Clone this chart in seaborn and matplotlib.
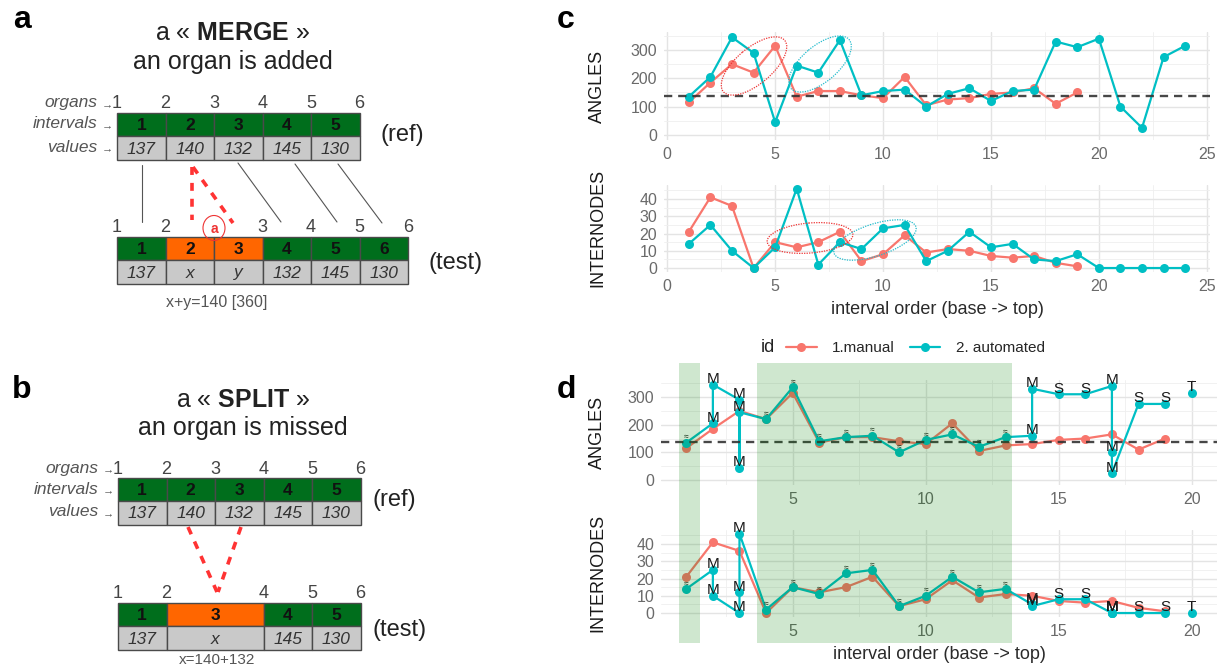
import numpy as np
import pandas as pd
import matplotlib
matplotlib.use('Agg')
import matplotlib.pyplot as plt
import matplotlib.transforms as mtransforms
from matplotlib.patches import Rectangle, Ellipse
from matplotlib.lines import Line2D
from matplotlib.ticker import MultipleLocator
import seaborn as sns

# ---- data: panel c (raw series) ----
manual_angles = [115, 185, 250, 220, 315, 135, 155, 155, 140, 130, 205, 105, 125, 130, 145, 150, 165, 110, 150]
auto_angles = [135, 205, 345, 290, 45, 245, 220, 335, 140, 155, 160, 100, 145, 165, 120, 155, 160,
               330, 310, 340, 100, 25, 275, 315]
manual_internodes = [21, 41, 36, 0, 15, 12, 15, 21, 4, 8, 19, 9, 11, 10, 7, 6, 7, 3, 1]
auto_internodes = [14, 25, 10, 0, 12, 46, 2, 15, 11, 23, 25, 4, 10, 21, 12, 14, 5, 4, 8, 0, 0, 0, 0, 0]
ref_angle = 137

# ---- data: panel d (automated intervals aligned on the manual ones) ----
d_pos = [1, 2, 2, 3, 3, 3, 4, 5, 6, 7, 8, 9, 10, 11, 12, 13, 14, 14, 15, 16, 17, 17, 17, 18, 19, 20]
d_src = [1, 2, 3, 4, 5, 6, 7, 8, 9, 10, 11, 12, 13, 14, 15, 16, 17, 18, 19, 19, 20, 21, 22, 23, 23, 24]
d_lab = ['=', 'M', 'M', 'M', 'M', 'M', '=', '=', '=', '=', '=', '=', '=', '=', '=', '=',
         'M', 'M', 'S', 'S', 'M', 'M', 'M', 'S', 'S', 'T']
d_seg = [0] * 25 + [1]
d_green = [(0.72, 1.5), (3.65, 13.25)]

# ---- data: panels a / b (diagrams) ----
ref_intervals = ['1', '2', '3', '4', '5']
ref_values = ['137', '140', '132', '145', '130']
ref_organs = ['1', '2', '3', '4', '5', '6']
merge_intervals = ['1', '2', '3', '4', '5', '6']
merge_values = ['137', 'x', 'y', '132', '145', '130']
merge_changed = [False, True, True, False, False, False]
merge_organs = ['1', '2', 'a', '3', '4', '5', '6']
split_intervals = ['1', '3', '4', '5']
split_values = ['137', 'x', '145', '130']
split_widths = [1, 2, 1, 1]
split_changed = [False, True, False, False]
split_organs = ['1', '2', '4', '5', '6']

sns.set_theme(style='white')
plt.rcParams['font.family'] = ['Liberation Sans', 'DejaVu Sans']
plt.rcParams['mathtext.fontset'] = 'custom'
plt.rcParams['mathtext.rm'] = 'Liberation Sans'
plt.rcParams['mathtext.bf'] = 'Liberation Sans:bold'

W, H = 1227, 668
fig = plt.figure(figsize=(W / 100, H / 100), dpi=100)
pal = {'1.manual': '#F8766D', '2. automated': '#00BFC4'}


def px_axes(left, top, right, bottom):
    return fig.add_axes([left / W, 1 - bottom / H, (right - left) / W, (bottom - top) / H])


manual = pd.DataFrame({'interval': np.arange(1, len(manual_angles) + 1), 'ANGLES': manual_angles,
                       'INTERNODES': manual_internodes, 'id': '1.manual', 'seg': 0})
auto = pd.DataFrame({'interval': np.arange(1, len(auto_angles) + 1), 'ANGLES': auto_angles,
                     'INTERNODES': auto_internodes, 'id': '2. automated', 'seg': 0})
auto_d = pd.DataFrame({'interval': d_pos,
                       'ANGLES': [auto_angles[s - 1] for s in d_src],
                       'INTERNODES': [auto_internodes[s - 1] for s in d_src],
                       'id': '2. automated', 'seg': d_seg, 'lab': d_lab})
df_c = pd.concat([manual, auto], ignore_index=True)
df_d = pd.concat([manual, auto_d], ignore_index=True)


def panel(ax, df, var, xlim, ylim, ymaj, label_x):
    sns.lineplot(data=df, x='interval', y=var, hue='id', units='seg', estimator=None, sort=False,
                 palette=pal, marker='o', markersize=6.5, markeredgewidth=0, linewidth=1.6,
                 legend=False, ax=ax)
    ax.set_xlim(*xlim)
    ax.set_ylim(*ylim)
    ax.xaxis.set_major_locator(MultipleLocator(5))
    ax.xaxis.set_minor_locator(MultipleLocator(2.5))
    ax.yaxis.set_major_locator(MultipleLocator(ymaj))
    ax.yaxis.set_minor_locator(MultipleLocator(ymaj / 2))
    ax.grid(which='major', color='#e4e4e4', lw=1.0)
    ax.grid(which='minor', color='#efefef', lw=0.6)
    ax.set_axisbelow(True)
    ax.patch.set_alpha(0)
    ax.tick_params(length=0, labelsize=11.5, labelcolor='#6a6a6a', pad=5)
    sns.despine(ax=ax, left=True, bottom=True)
    ax.set_xlabel('')
    ax.set_ylabel(var, fontsize=13, color='#1a1a1a')
    ax.yaxis.set_label_coords(label_x, 0.5)


# ---- panel c ----
c1 = px_axes(664, 32.4, 1210, 139.8)
panel(c1, df_c, 'ANGLES', (-0.15, 25.15), (-17.25, 362.25), 100, (606 - 664) / 546)
c1.axhline(ref_angle, ls='--', dashes=(3.5, 2.5), color='#333333', lw=1.7, alpha=0.9, zorder=5)
c2 = px_axes(664, 184.7, 1210, 272)
panel(c2, df_c, 'INTERNODES', (-0.15, 25.15), (-2.3, 48.3), 10, (606 - 664) / 546)
c2.set_xlabel('interval order (base -> top)', fontsize=13, color='#2a2a2a', labelpad=5)

# ---- panel d ----
d1 = px_axes(661, 379.8, 1217, 484.8)
panel(d1, df_d, 'ANGLES', (0.05, 20.95), (-17.25, 362.25), 100, (606 - 661) / 556)
d1.axhline(ref_angle, ls='--', dashes=(3.5, 2.5), color='#333333', lw=1.7, alpha=0.9, zorder=5)
d2 = px_axes(661, 529.7, 1217, 617)
panel(d2, df_d, 'INTERNODES', (0.05, 20.95), (-2.3, 48.3), 10, (606 - 661) / 556)
d2.set_xlabel('interval order (base -> top)', fontsize=13, color='#2a2a2a', labelpad=5)

for ax, var in [(d1, 'ANGLES'), (d2, 'INTERNODES')]:
    for _, r in auto_d.iterrows():
        small = r['lab'] == '='
        ax.annotate('≈' if small else r['lab'], (r['interval'], r[var]),
                    xytext=(0, 4), textcoords='offset points',
                    ha='center', va='center', fontsize=6 if small else 11,
                    color='#1a1a1a', zorder=6)

blend = mtransforms.blended_transform_factory(d2.transData, fig.transFigure)
for x0, x1 in d_green:
    fig.add_artist(Rectangle((x0, 1 - 643 / H), x1 - x0, 280 / H, transform=blend,
                             facecolor='green', alpha=0.19, lw=0, zorder=5))

# legend
fig.text(761 / W, 1 - 348 / H, 'id', fontsize=13, color='#222222', ha='left', va='center')
handles = [Line2D([], [], color=pal[k], marker='o', ms=6.5, mew=0, lw=1.6) for k in pal]
fig.legend(handles, list(pal), ncol=2, frameon=False, loc='center left',
           bbox_to_anchor=(786 / W, 1 - 348 / H), fontsize=11, handlelength=2.0,
           columnspacing=1.0, handletextpad=1.0, borderaxespad=0, borderpad=0)

# ---- overlay in pixel coordinates: panels a, b, ellipses, letters ----
ov = fig.add_axes([0, 0, 1, 1], zorder=10)
ov.set_xlim(0, W)
ov.set_ylim(H, 0)
ov.axis('off')

GREEN, ORANGE, GREY = '#006e1c', '#ff6600', '#c9c9c9'
CELL, H1, H2 = 48.5, 23, 24


def draw_row(x0, top, widths, intervals, values, changed, organs):
    bounds = x0 + CELL * np.concatenate([[0], np.cumsum(widths)])
    for i, w in enumerate(widths):
        ov.add_patch(Rectangle((bounds[i], top), w * CELL, H1, fc=ORANGE if changed[i] else GREEN,
                               ec='#4a4a4a', lw=1))
        ov.add_patch(Rectangle((bounds[i], top + H1), w * CELL, H2, fc=GREY, ec='#4a4a4a', lw=1))
        cx = bounds[i] + w * CELL / 2
        ov.text(cx, top + H1 / 2 + 1, intervals[i], ha='center', va='center', fontsize=12.5,
                fontweight='bold', color='#111111')
        ov.text(cx, top + H1 + H2 / 2 + 1, values[i], ha='center', va='center', fontsize=12.5,
                style='italic', color='#333333')
    for b, lab in zip(bounds, organs):
        if lab == 'a':
            ov.add_patch(Ellipse((b, top - 9), 22, 25, fill=False, ec='#ee3333', lw=0.8))
            ov.text(b, top - 8, lab, ha='center', va='center', fontsize=10, fontweight='bold',
                    color='#ee3333')
        else:
            ov.text(b, top - 9, lab, ha='center', va='center', fontsize=13, color='#444444')


def row_labels(x_end, top):
    for txt, dy in [('organs', -10), ('intervals', 11), ('values', 34)]:
        ov.text(x_end - 20, top + dy, txt, ha='right', va='center', fontsize=12.5,
                style='italic', color='#555555')
        ov.text(x_end - 10, top + dy + 1, '→', ha='center', va='center', fontsize=8, color='#555555')


# panel a
ov.text(233, 33, r'a « $\mathbf{MERGE}$ »', ha='center', va='center', fontsize=18, color='#222222')
ov.text(233, 62, 'an organ is added', ha='center', va='center', fontsize=18, color='#222222')
row_labels(117, 113)
draw_row(117, 113, [1] * 5, ref_intervals, ref_values, [False] * 5, ref_organs)
draw_row(117, 237, [1] * 6, merge_intervals, merge_values, merge_changed, merge_organs)
ov.text(380, 135, '(ref)', ha='left', va='center', fontsize=17, color='#222222')
ov.text(428, 263, '(test)', ha='left', va='center', fontsize=17, color='#222222')
ov.text(217, 302, 'x+y=140 [360]', ha='center', va='center', fontsize=11.5, color='#555555')
for (xa, ya), (xb, yb) in [((142, 165), (142, 222)), ((238, 163), (281, 222)),
                           ((295, 164), (337, 222)), ((338, 164), (382, 223))]:
    ov.plot([xa, xb], [ya, yb], color='#555555', lw=0.8)
for (xa, ya), (xb, yb) in [((192, 167), (192, 220)), ((193, 167), (233, 223))]:
    ov.plot([xa, xb], [ya, yb], color='#ff3333', lw=2.6, dashes=(2.2, 2.2))

# panel b
ov.text(243, 400, r'a « $\mathbf{SPLIT}$ »', ha='center', va='center', fontsize=18, color='#222222')
ov.text(243, 428, 'an organ is missed', ha='center', va='center', fontsize=18, color='#222222')
row_labels(118, 478)
draw_row(118, 478, [1] * 5, ref_intervals, ref_values, [False] * 5, ref_organs)
draw_row(118, 603, split_widths, split_intervals, split_values, split_changed, split_organs)
ov.text(372, 500, '(ref)', ha='left', va='center', fontsize=17, color='#222222')
ov.text(372, 630, '(test)', ha='left', va='center', fontsize=17, color='#222222')
ov.text(217, 660, 'x=140+132', ha='center', va='center', fontsize=11, color='#555555')
for (xa, ya), (xb, yb) in [((188, 527), (217, 592)), ((241, 527), (218, 592))]:
    ov.plot([xa, xb], [ya, yb], color='#ff3333', lw=2.6, dashes=(2.2, 2.2))

# ellipses in panel c
for (cx, cy), a, b, ang, col in [((754, 66), 80, 36, -40, '#ee3333'), ((820, 64), 76, 36, -40, '#22bbcc'),
                                 ((810, 238), 86, 30, -5, '#ee3333'), ((875, 240), 86, 32, -18, '#22bbcc')]:
    ov.add_patch(Ellipse((cx, cy), a, b, angle=ang, fill=False, ec=col, lw=0.9, ls=(0, (1, 1))))

for lab, x, y in [('a', 22, 20), ('b', 22, 390), ('c', 566, 20), ('d', 566, 390)]:
    ov.text(x, y, lab, ha='center', va='center', fontsize=23, fontweight='bold', color='#000000')

fig.savefig('out.png', dpi=100)
